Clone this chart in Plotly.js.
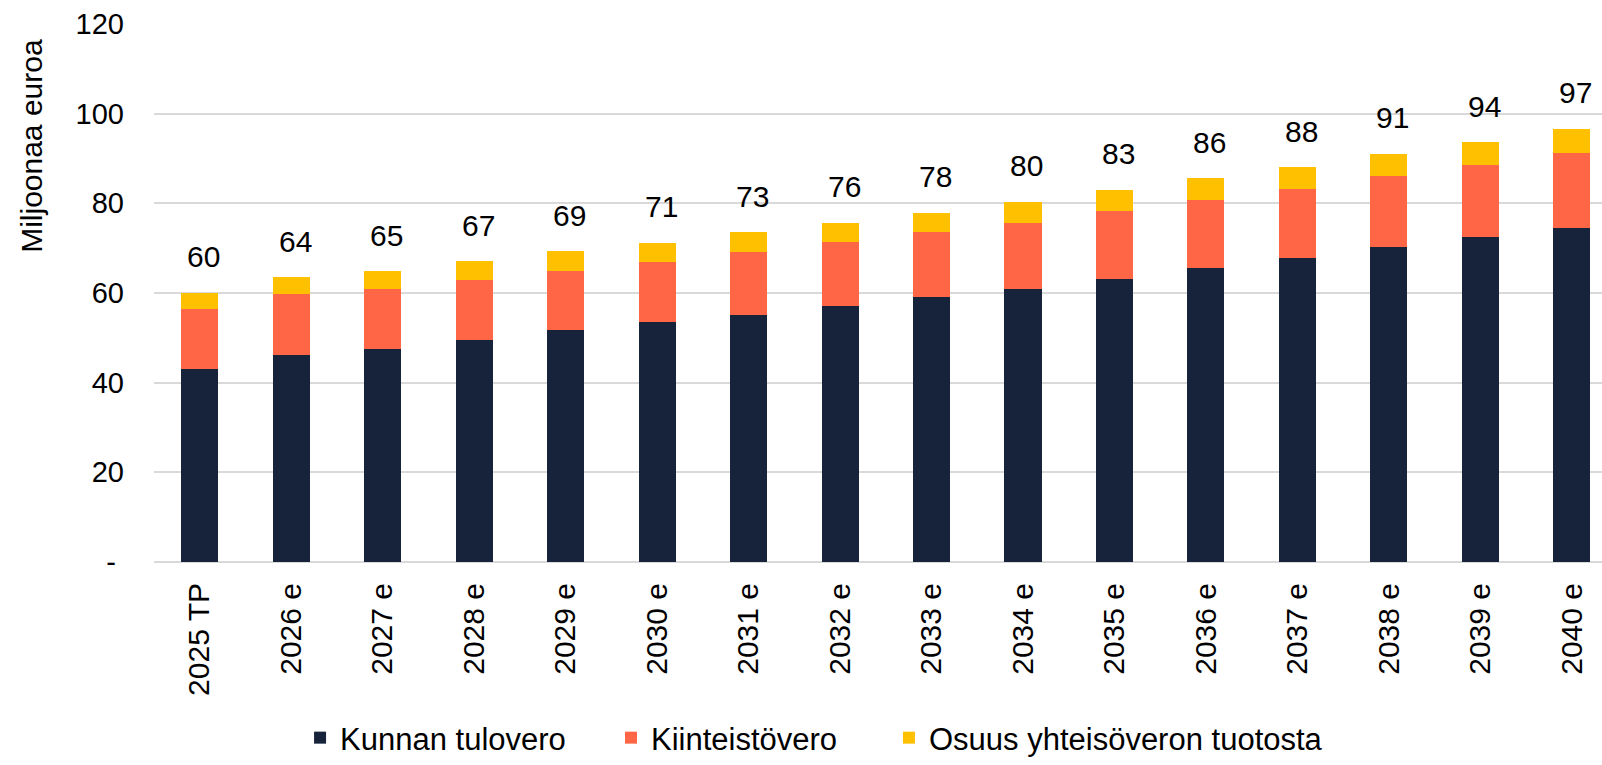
<!DOCTYPE html>
<html>
<head>
<meta charset="utf-8">
<script src="https://cdn.plot.ly/plotly-3.0.1.min.js"></script>
<style>
html,body{margin:0;padding:0;background:#fff;}
#chart{width:1602px;height:765px;}
</style>
</head>
<body>
<div id="chart"></div>
<script>
const categories = ['2025 TP','2026 e','2027 e','2028 e','2029 e','2030 e','2031 e','2032 e','2033 e','2034 e','2035 e','2036 e','2037 e','2038 e','2039 e','2040 e'];
const kunnanTulovero = [43.1,46.2,47.6,49.6,51.8,53.5,55.1,57.1,59.1,61.0,63.2,65.5,67.7,70.2,72.4,74.6];
const kiinteistovero = [13.4,13.6,13.4,13.3,13.1,13.4,14.0,14.2,14.5,14.7,15.1,15.2,15.5,15.8,16.1,16.7];
const yhteisovero = [3.6,3.7,3.9,4.2,4.4,4.3,4.4,4.4,4.3,4.7,4.7,4.9,4.8,5.1,5.1,5.3];
const totalLabels = ['60','64','65','67','69','71','73','76','78','80','83','86','88','91','94','97'];
const yTickVals = [0,20,40,60,80,100,120];
const yTickText = ['-\u00a0','20','40','60','80','100','120'];

const FONT = 'Liberation Sans, Arial, sans-serif';
const totals = categories.map((c,i)=>kunnanTulovero[i]+kiinteistovero[i]+yhteisovero[i]);

const traces = [
  {type:'bar', name:'Kunnan tulovero', x:categories, y:kunnanTulovero, marker:{color:'#17223b', line:{width:0}}, legend:'legend'},
  {type:'bar', name:'Kiinteistövero', x:categories, y:kiinteistovero, marker:{color:'#ff6645', line:{width:0}}, legend:'legend2'},
  {type:'bar', name:'Osuus yhteisöveron tuotosta', x:categories, y:yhteisovero, marker:{color:'#ffc000', line:{width:0}}, legend:'legend3'}
];

const annotations = categories.map((c,i)=>({
  x:c, y:totals[i], xref:'x', yref:'y', text:totalLabels[i], showarrow:false,
  yanchor:'middle', xanchor:'center', yshift:36, xshift:4,
  font:{family:FONT, size:30, color:'#000'}
}));
annotations.push({
  xref:'paper', yref:'paper', x:0, y:0.7735, xshift:-122, xanchor:'center', yanchor:'middle',
  text:'Miljoonaa euroa', textangle:-90, showarrow:false,
  font:{family:FONT, size:30, color:'#000'}
});

function legendAt(x){
  return {orientation:'h', xref:'container', yref:'container', x:x, xanchor:'left', y:-0.012, yanchor:'bottom',
    font:{family:FONT, size:31, color:'#000'}, bgcolor:'rgba(0,0,0,0)', borderwidth:0};
}

const layout = {
  width:1602, height:765,
  margin:{l:154, r:0, t:24, b:203},
  paper_bgcolor:'#fff', plot_bgcolor:'#fff',
  barmode:'stack', bargap:0.595,
  font:{family:FONT, size:30, color:'#000'},
  showlegend:true,
  legend:legendAt(0.1873),
  legend2:legendAt(0.3814),
  legend3:legendAt(0.5549),
  xaxis:{type:'category', range:[-0.5,15.33], tickangle:-90, ticks:'', showgrid:false, zeroline:false,
    showline:false, tickfont:{family:FONT, size:30, color:'#000'}, ticklabelstandoff:14, fixedrange:true},
  yaxis:{range:[0,120], tickvals:yTickVals, ticktext:yTickText, ticks:'', showgrid:true, gridcolor:'#d9d9d9', gridwidth:2,
    zeroline:true, zerolinecolor:'#d9d9d9', zerolinewidth:2.5, showline:false,
    tickfont:{family:FONT, size:29, color:'#000'}, ticklabelstandoff:29, fixedrange:true},
  annotations:annotations
};

Plotly.newPlot('chart', traces, layout, {displayModeBar:false, staticPlot:true});
</script>
</body>
</html>
